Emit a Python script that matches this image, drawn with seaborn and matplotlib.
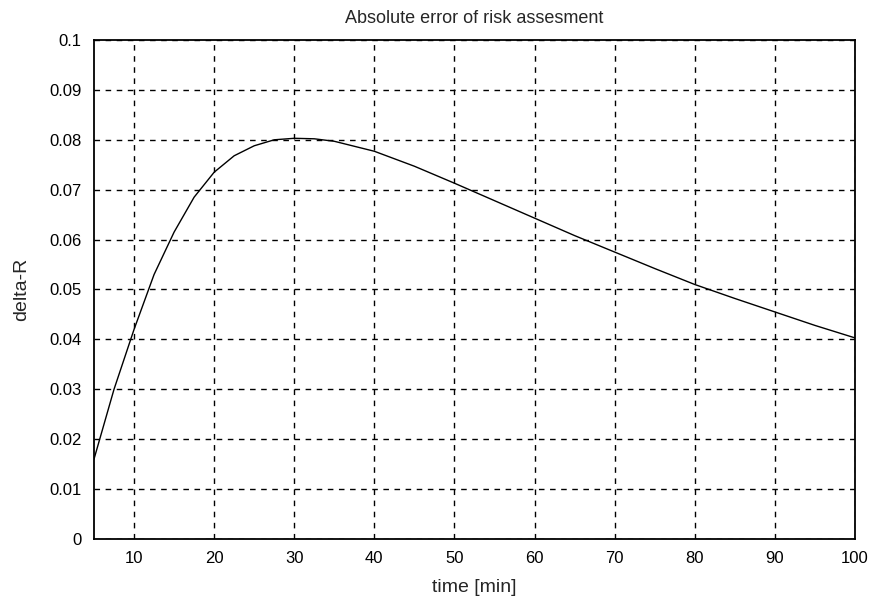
import numpy as np
import pandas as pd
import seaborn as sns
import matplotlib.pyplot as plt

# values
time_min = [5, 7.5, 10, 12.5, 15, 17.5, 20, 22.5, 25, 27.5, 30, 32.5, 35, 40, 45,
            50, 55, 60, 65, 70, 75, 80, 85, 90, 95, 100]
delta_r = [0.016, 0.030, 0.042, 0.0530, 0.0615, 0.0685, 0.0735, 0.0768, 0.0788, 0.0800,
           0.0803, 0.0802, 0.0797, 0.0777, 0.0747, 0.0713, 0.0678, 0.0643, 0.0608,
           0.0575, 0.0542, 0.0510, 0.0482, 0.0455, 0.0428, 0.0403]
x_ticks = [10, 20, 30, 40, 50, 60, 70, 80, 90, 100]
y_ticks = [0, 0.01, 0.02, 0.03, 0.04, 0.05, 0.06, 0.07, 0.08, 0.09, 0.1]
y_labels = ['0', '0.01', '0.02', '0.03', '0.04', '0.05', '0.06', '0.07', '0.08', '0.09', '0.1']

sns.set_style("white")
plt.rcParams['font.family'] = ['Liberation Sans', 'DejaVu Sans']

df = pd.DataFrame({'time': time_min, 'delta': delta_r})

fig = plt.figure(figsize=(8.76, 5.97), dpi=100)
ax = fig.add_axes([0.1073, 0.0972, 0.8687, 0.8358])
sns.lineplot(data=df, x='time', y='delta', ax=ax, color='black', linewidth=1.0)

ax.set_xlim(5, 100)
ax.set_ylim(0, 0.1)
ax.set_xticks(x_ticks)
ax.set_xticklabels([str(t) for t in x_ticks])
ax.set_yticks(y_ticks)
ax.set_yticklabels(y_labels)
ax.tick_params(length=0, labelsize=12, pad=9, colors='black')
ax.grid(True, color='black', linestyle=(0, (4, 4)), linewidth=1.0)
for s in ax.spines.values():
    s.set_color('black')
    s.set_linewidth(1.3)

ax.set_title('Absolute error of risk assesment', fontsize=13, pad=12)
ax.set_xlabel('time [min]', fontsize=14, labelpad=9)
ax.set_ylabel('delta-R', fontsize=14, labelpad=14)

fig.savefig('out.png', dpi=100)
